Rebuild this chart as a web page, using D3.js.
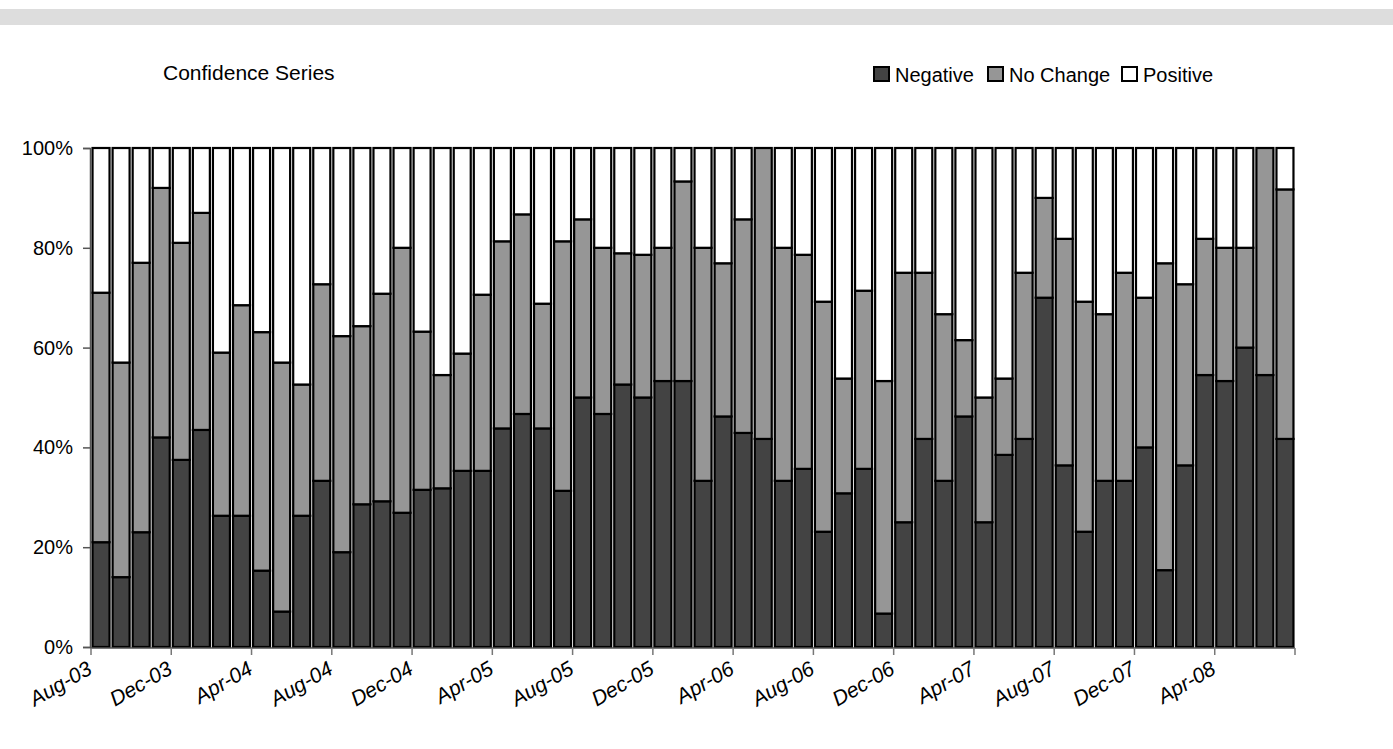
<!DOCTYPE html>
<html>
<head>
<meta charset="utf-8">
<script src="https://cdn.jsdelivr.net/npm/d3@7"></script>
<style>
  html, body { margin: 0; padding: 0; background: #fff; }
  svg { display: block; font-family: "Liberation Sans", Arial, Helvetica, sans-serif; }
</style>
</head>
<body>
<svg id="chart" width="1393" height="749"></svg>
<script>
const months = [
  "Aug-03","Sep-03","Oct-03","Nov-03","Dec-03","Jan-04","Feb-04","Mar-04","Apr-04","May-04","Jun-04","Jul-04",
  "Aug-04","Sep-04","Oct-04","Nov-04","Dec-04","Jan-05","Feb-05","Mar-05","Apr-05","May-05","Jun-05","Jul-05",
  "Aug-05","Sep-05","Oct-05","Nov-05","Dec-05","Jan-06","Feb-06","Mar-06","Apr-06","May-06","Jun-06","Jul-06",
  "Aug-06","Sep-06","Oct-06","Nov-06","Dec-06","Jan-07","Feb-07","Mar-07","Apr-07","May-07","Jun-07","Jul-07",
  "Aug-07","Sep-07","Oct-07","Nov-07","Dec-07","Jan-08","Feb-08","Mar-08","Apr-08","May-08","Jun-08","Jul-08"
];
const negative = [
  21,14,23,42,37.5,43.5,26.3,26.3,15.3,7.1,26.3,33.3,
  19,28.6,29.2,26.9,31.5,31.8,35.3,35.3,43.8,46.7,43.8,31.3,
  50,46.7,52.6,50,53.3,53.3,33.3,46.2,42.9,41.7,33.3,35.7,
  23.1,30.8,35.7,6.7,25,41.7,33.3,46.2,25,38.5,41.7,70,
  36.4,23.1,33.3,33.3,40,15.4,36.4,54.5,53.3,60,54.5,41.7
];
const noChange = [
  50,43,54,50,43.5,43.5,32.7,42.2,47.8,49.9,26.3,39.4,
  43.3,35.7,41.6,53.1,31.7,22.7,23.5,35.3,37.5,40,25,50,
  35.7,33.3,26.3,28.6,26.7,40,46.7,30.7,42.8,58.3,46.7,42.9,
  46.1,23,35.7,46.6,50,33.3,33.4,15.3,25,15.3,33.3,20,
  45.4,46.1,33.4,41.7,30,61.5,36.3,27.3,26.7,20,45.5,50
];
const positive = [
  29,43,23,8,19,13,41,31.5,36.9,43,47.4,27.3,
  37.7,35.7,29.2,20,36.8,45.5,41.2,29.4,18.7,13.3,31.2,18.7,
  14.3,20,21.1,21.4,20,6.7,20,23.1,14.3,0,20,21.4,
  30.8,46.2,28.6,46.7,25,25,33.3,38.5,50,46.2,25,10,
  18.2,30.8,33.3,25,30,23.1,27.3,18.2,20,20,0,8.3
];
const seriesNames = ["Negative", "No Change", "Positive"];
const seriesColors = ["#434343", "#969696", "#ffffff"];
const yTicks = [0, 20, 40, 60, 80, 100];
const xTickLabels = ["Aug-03","Dec-03","Apr-04","Aug-04","Dec-04","Apr-05","Aug-05","Dec-05",
                     "Apr-06","Aug-06","Dec-06","Apr-07","Aug-07","Dec-07","Apr-08"];
const title = "Confidence Series";

const svg = d3.select("#chart");

// top grey band
svg.append("rect").attr("x", 0).attr("y", 9).attr("width", 1393).attr("height", 16).attr("fill", "#dddddd");

const margin = { left: 91, right: 1295, top: 148, bottom: 647 };

const rows = months.map((m, i) => ({
  month: m,
  "Negative": negative[i],
  "No Change": noChange[i],
  "Positive": positive[i]
}));

const stack = d3.stack().keys(seriesNames);
const layers = stack(rows);

const x = d3.scaleBand().domain(months).range([margin.left, margin.right]).paddingInner(0).paddingOuter(0);
const y = d3.scaleLinear().domain([0, 100]).range([margin.bottom, margin.top]);
const color = d3.scaleOrdinal().domain(seriesNames).range(seriesColors);

const barW = 17;
const off = (x.bandwidth() - barW) / 2;

const g = svg.append("g");
layers.forEach(layer => {
  g.append("g")
    .selectAll("rect")
    .data(layer)
    .join("rect")
    .attr("x", d => x(d.data.month) + off)
    .attr("y", d => y(d[1]))
    .attr("width", barW)
    .attr("height", d => Math.max(0, y(d[0]) - y(d[1])))
    .attr("fill", color(layer.key))
    .attr("stroke", d => (d[1] - d[0]) > 0 ? "#000" : "none")
    .attr("stroke-width", 2.2);
});

// Y axis
const yAxis = d3.axisLeft(y).tickValues(yTicks).tickFormat(d => d + "%").tickSize(7).tickPadding(10);
const yg = svg.append("g").attr("transform", `translate(${margin.left - 1},0)`).call(yAxis);
yg.select(".domain").attr("stroke", "#555").attr("stroke-width", 1.5);
yg.selectAll(".tick line").attr("stroke", "#555").attr("stroke-width", 1.5);
yg.selectAll(".tick text").attr("font-size", 20).attr("fill", "#000")
  .attr("font-family", "'Liberation Sans', Arial, sans-serif");

// X axis: ticks every 4 categories
const tickIdx = d3.range(0, months.length + 1, 4);
const xg = svg.append("g");
xg.append("line")
  .attr("x1", margin.left - 1).attr("x2", margin.right)
  .attr("y1", margin.bottom + 1).attr("y2", margin.bottom + 1)
  .attr("stroke", "#555").attr("stroke-width", 1.5);
xg.selectAll("line.tick")
  .data(tickIdx)
  .join("line")
  .attr("class", "tick")
  .attr("x1", i => i < months.length ? x(months[i]) : margin.right)
  .attr("x2", i => i < months.length ? x(months[i]) : margin.right)
  .attr("y1", margin.bottom + 1).attr("y2", margin.bottom + 8)
  .attr("stroke", "#777").attr("stroke-width", 1.5);

const labelMonths = months.filter(m => xTickLabels.includes(m));
xg.selectAll("text")
  .data(labelMonths)
  .join("text")
  .attr("transform", m => `translate(${x(m) - 5},${margin.bottom + 13}) rotate(-30)`)
  .attr("text-anchor", "end")
  .attr("dy", "0.71em")
  .attr("font-size", 21)
  .attr("font-style", "italic")
  .attr("fill", "#000")
  .text(m => m);

// Title
svg.append("text").attr("x", 163).attr("y", 80).attr("font-size", 21).attr("fill", "#000").text(title);

// Legend
const legendX = [874, 988, 1122];
const legend = svg.append("g");
seriesNames.forEach((s, i) => {
  legend.append("rect")
    .attr("x", legendX[i]).attr("y", 67)
    .attr("width", 15).attr("height", 14)
    .attr("fill", color(s)).attr("stroke", "#000").attr("stroke-width", 2);
  legend.append("text")
    .attr("x", legendX[i] + 21).attr("y", 82)
    .attr("font-size", 20).attr("fill", "#000")
    .text(s);
});
</script>
</body>
</html>
